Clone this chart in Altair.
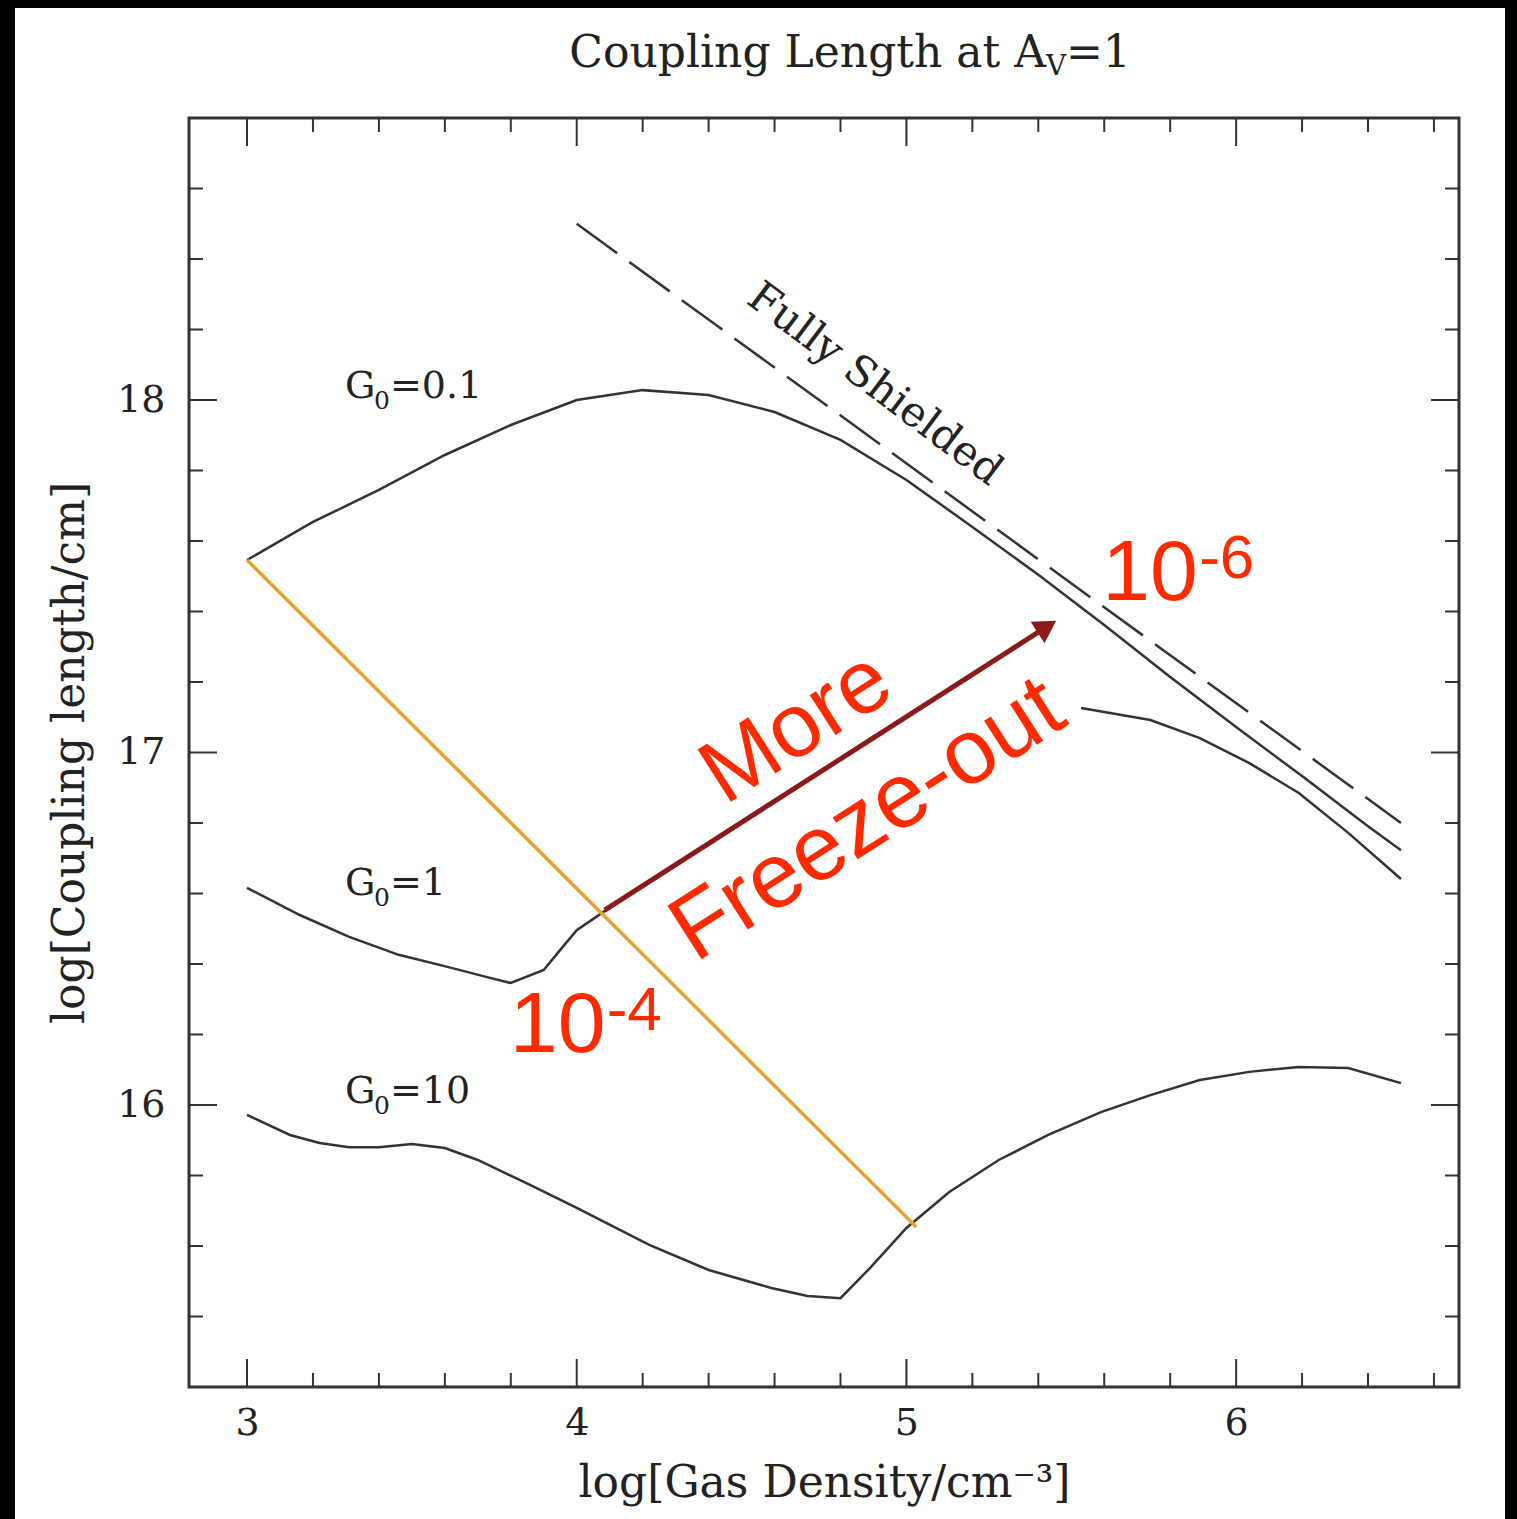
import altair as alt
import pandas as pd

# ---- curves: log gas density (x) vs log coupling length (y) ----
g01_x = [3.0, 3.2, 3.4, 3.6, 3.8, 4.0, 4.2, 4.4, 4.6, 4.8, 5.0, 5.2, 5.4, 5.6, 5.8, 6.0, 6.2, 6.4, 6.5]
g01_y = [17.546, 17.654, 17.745, 17.844, 17.929, 18.0, 18.028, 18.014, 17.966, 17.887, 17.773,
         17.640, 17.504, 17.362, 17.214, 17.072, 16.933, 16.791, 16.723]

g1_low_x = [3.0, 3.16, 3.31, 3.46, 3.62, 3.74, 3.8, 3.9, 3.95, 4.0, 4.1]
g1_low_y = [16.616, 16.539, 16.477, 16.426, 16.389, 16.360, 16.346, 16.383, 16.44, 16.496, 16.56]
g1_high_x = [5.53, 5.74, 5.89, 6.04, 6.19, 6.34, 6.5]
g1_high_y = [17.126, 17.092, 17.041, 16.970, 16.885, 16.772, 16.641]

g10_x = [3.0, 3.13, 3.22, 3.31, 3.4, 3.5, 3.6, 3.7, 3.86, 4.0, 4.22, 4.4, 4.59, 4.7, 4.8,
         4.89, 5.0, 5.13, 5.28, 5.43, 5.59, 5.74, 5.89, 6.04, 6.19, 6.34, 6.5]
g10_y = [15.972, 15.915, 15.892, 15.880, 15.880, 15.889, 15.878, 15.844, 15.773, 15.708, 15.603,
         15.532, 15.481, 15.458, 15.452, 15.538, 15.651, 15.753, 15.844, 15.915, 15.980, 16.028,
         16.071, 16.094, 16.108, 16.105, 16.062]

shield_x = [4.0, 6.5]
shield_y = [18.5, 16.80]

orange_x = [3.0, 5.03]
orange_y = [17.546, 15.654]

# arrow: start point and head centre
arrow_x = [4.085, 5.426]
arrow_y = [16.553, 17.357]

# ---- ticks ----
x_major = [3, 4, 5, 6]
x_minor = [3.2, 3.4, 3.6, 3.8, 4.2, 4.4, 4.6, 4.8, 5.2, 5.4, 5.6, 5.8, 6.2, 6.4, 6.6]
y_major = [16, 17, 18]
y_minor = [15.4, 15.6, 15.8, 16.2, 16.4, 16.6, 16.8, 17.2, 17.4, 17.6, 17.8, 18.2, 18.4, 18.6]

W, H = 1270, 1269
MAJ, MIN = 28, 14
INK = "#333333"
TXT = "#222222"
SERIF = "DejaVu Serif"
SANS = "Liberation Sans"
RED = "#FF2A00"

xs = alt.Scale(domain=[2.824, 6.676], nice=False, zero=False)
ys = alt.Scale(domain=[15.2, 18.8], nice=False, zero=False)

# one shared axis definition per channel so that the layers merge cleanly
XA = alt.Axis(values=x_major, ticks=False, domain=False, grid=False, labelPadding=17,
              title="log[Gas Density/cm\u207b\u00b3]", titleX=W / 2, titleY=96,
              titleBaseline="middle", titleAlign="center")
YA = alt.Axis(values=y_major, ticks=False, domain=False, grid=False, labelPadding=24,
              title="log[Coupling length/cm]", titleX=-119, titleY=H / 2,
              titleAngle=270, titleBaseline="middle", titleAlign="center")


def X(field="x"):
    return alt.X(f"{field}:Q", scale=xs, axis=XA)


def Y(field="y"):
    return alt.Y(f"{field}:Q", scale=ys, axis=YA)


def xy(xv, yv):
    return pd.DataFrame({"x": xv, "y": yv})


def curve(df, dash=None, color=INK, width=2.5):
    kw = dict(color=color, strokeWidth=width, clip=True)
    if dash:
        kw["strokeDash"] = dash
    return alt.Chart(df).mark_line(**kw).encode(x=X(), y=Y(), order="x:Q")


one = pd.DataFrame({"a": [0]})


def band(x0, x1, y0, y1):
    return alt.Chart(one).mark_rect(color="black").encode(
        x=alt.value(x0), x2=alt.value(x1), y=alt.value(y0), y2=alt.value(y1))


def vticks(vals, length):
    b = alt.Chart(pd.DataFrame({"v": vals}))
    top = b.mark_rule(color=INK, strokeWidth=2).encode(x=X("v"), y=alt.value(0), y2=alt.value(length))
    bot = b.mark_rule(color=INK, strokeWidth=2).encode(x=X("v"), y=alt.value(H - length), y2=alt.value(H))
    return top + bot


def hticks(vals, length):
    b = alt.Chart(pd.DataFrame({"v": vals}))
    left = b.mark_rule(color=INK, strokeWidth=2).encode(y=Y("v"), x=alt.value(0), x2=alt.value(length))
    right = b.mark_rule(color=INK, strokeWidth=2).encode(y=Y("v"), x=alt.value(W - length), x2=alt.value(W))
    return left + right


def label(text, x, y, size, color, font, align="left", baseline="alphabetic",
          angle=0, weight="normal", dx=0, dy=0):
    kw = dict(align=align, baseline=baseline, fontSize=size, color=color, font=font,
              fontWeight=weight, dx=dx, dy=dy)
    if angle:
        kw["angle"] = angle
    return alt.Chart(pd.DataFrame({"x": [x], "y": [y], "t": [text]})).mark_text(**kw).encode(
        x=X(), y=Y(), text="t:N")


def g_label(value, x, y):
    # "G" with a lowered subscript 0, then "=value"
    return (label("G", x, y, 38, TXT, SERIF)
            + label("0", x, y, 25, TXT, SERIF, dx=29, dy=11)
            + label("=" + value, x, y, 38, TXT, SERIF, dx=45))


def title_part(text, x, y, size, align="left"):
    return alt.Chart(one).mark_text(align=align, baseline="alphabetic", fontSize=size,
                                    font=SERIF, color=TXT).encode(
        x=alt.value(x), y=alt.value(y), text=alt.value(text))


arrow_df = xy(arrow_x, arrow_y)
shaft = alt.Chart(arrow_df).mark_line(color="#8B1A1A", strokeWidth=5).encode(x=X(), y=Y())
head = alt.Chart(arrow_df.iloc[[1]]).mark_point(
    shape="triangle-up", filled=True, color="#8B1A1A", size=650, angle=57.4, opacity=1
).encode(x=X(), y=Y())

layers = [
    band(-189, -174, -118, H + 132),
    band(-189, W + 58, -118, -110),
    band(1316, W + 58, -118, H + 132),
    vticks(x_major, MAJ), vticks(x_minor, MIN),
    hticks(y_major, MAJ), hticks(y_minor, MIN),
    curve(xy(g01_x, g01_y)),
    curve(xy(g1_low_x, g1_low_y)),
    curve(xy(g1_high_x, g1_high_y)),
    curve(xy(g10_x, g10_y)),
    curve(xy(shield_x, shield_y), dash=[50, 15]),
    label("Fully Shielded", 4.905, 18.045, 42, TXT, SERIF, align="center", baseline="middle", angle=37),
    g_label("0.1", 3.297, 18.006),
    g_label("1", 3.297, 16.596),
    g_label("10", 3.297, 16.006),
    title_part("Coupling Length at A", 857, -51, 44, align="right"),
    title_part("V", 857, -43, 28),
    title_part("=1", 877, -51, 44),
    curve(xy(orange_x, orange_y), color="#E9A030", width=3.5),
    shaft, head,
    label("More", 4.667, 17.070, 90, RED, SANS, align="center", baseline="middle", angle=327.4),
    label("Freeze-out", 4.882, 16.809, 92, RED, SANS, align="center", baseline="middle", angle=327.4),
    label("10", 3.797, 16.150, 86, RED, SANS),
    label("-4", 4.091, 16.213, 62, RED, SANS),
    label("10", 5.594, 17.433, 86, RED, SANS),
    label("-6", 5.888, 17.495, 62, RED, SANS),
]

chart = alt.layer(*layers).properties(
    width=W,
    height=H,
    padding={"left": 189, "top": 118, "right": 58, "bottom": 132},
    autosize=alt.AutoSizeParams(type="none"),
    background="white",
).configure_view(stroke=INK, strokeWidth=3).configure_axis(
    labelFont=SERIF, labelFontSize=38, labelFontWeight="normal", labelColor=TXT,
    titleFont=SERIF, titleFontSize=44, titleFontWeight="normal", titleColor=TXT,
    zindex=1,
)

chart.save("out.html", embed_options={"renderer": "svg", "actions": False})
